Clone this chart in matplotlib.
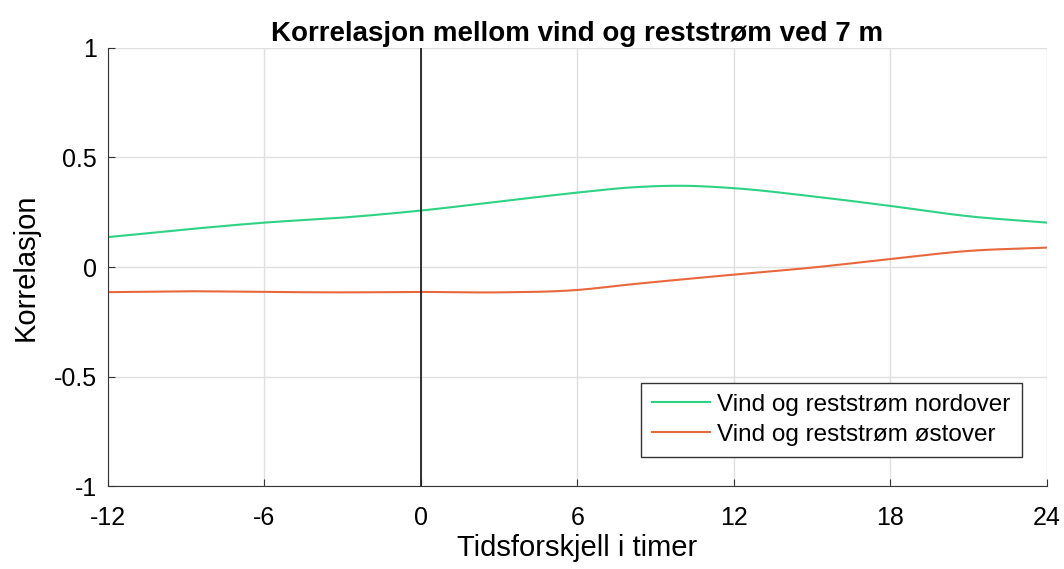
import numpy as np
import matplotlib.pyplot as plt

plt.rcParams['font.family'] = ['Liberation Sans', 'DejaVu Sans']
plt.rcParams['axes.unicode_minus'] = False

# tidsforskjell (timer) og korrelasjon lest av figuren
lag = [-12, -9, -6, -3, 0, 3, 6, 8, 10, 12, 15, 18, 21, 24]
nord = [0.137, 0.172, 0.203, 0.226, 0.258, 0.299, 0.340, 0.363, 0.371, 0.360, 0.323, 0.279, 0.232, 0.203]
ost = [-0.114, -0.110, -0.113, -0.115, -0.113, -0.115, -0.104, -0.079, -0.056, -0.034, -0.002, 0.037, 0.074, 0.089]
xticks = [-12, -6, 0, 6, 12, 18, 24]
yticks = [-1, -0.5, 0, 0.5, 1]
ytick_labels = ['-1', '-0.5', '0', '0.5', '1']

# glatt kurve gjennom avleste punkter (kubisk Hermite)
def smooth(x, y, n=400):
    x = np.asarray(x, float)
    y = np.asarray(y, float)
    d = np.gradient(y, x)
    xs = np.linspace(x[0], x[-1], n)
    ys = np.empty_like(xs)
    for k, xv in enumerate(xs):
        i = min(np.searchsorted(x, xv, side='right') - 1, len(x) - 2)
        h = x[i + 1] - x[i]
        t = (xv - x[i]) / h
        h00 = 2*t**3 - 3*t**2 + 1
        h10 = t**3 - 2*t**2 + t
        h01 = -2*t**3 + 3*t**2
        h11 = t**3 - t**2
        ys[k] = h00*y[i] + h10*h*d[i] + h01*y[i+1] + h11*h*d[i+1]
    return xs, ys

fig = plt.figure(figsize=(10.64, 5.69), dpi=100)
ax = fig.add_axes([0.1015, 0.145, 0.8825, 0.771])

xs, ys = smooth(lag, nord)
ax.plot(xs, ys, color='#2ed283', lw=1.5, label='Vind og reststrøm nordover')
xs, ys = smooth(lag, ost)
ax.plot(xs, ys, color='#e8683c', lw=1.5, label='Vind og reststrøm østover')
ax.axvline(0, color='#222222', lw=1.3)

ax.set_xlim(-12, 24)
ax.set_ylim(-1, 1)
ax.set_xticks(xticks)
ax.set_yticks(yticks)
ax.set_yticklabels(ytick_labels)
ax.grid(True, color='#e0e0e0', lw=1)
ax.set_axisbelow(True)
ax.spines['top'].set_visible(False)
ax.spines['right'].set_visible(False)
ax.spines['left'].set_color('#333333')
ax.spines['bottom'].set_color('#333333')
ax.tick_params(direction='in', labelsize=18, length=5, color='#333333')
ax.tick_params(axis='x', pad=14)
ax.tick_params(axis='y', pad=8)

ax.set_title('Korrelasjon mellom vind og reststrøm ved 7 m', fontsize=20, fontweight='bold', pad=5)
ax.set_xlabel('Tidsforskjell i timer', fontsize=21, labelpad=3)
ax.set_ylabel('Korrelasjon', fontsize=21, labelpad=10)

leg = ax.legend(loc='lower right', bbox_to_anchor=(0.973, 0.068), borderaxespad=0, fontsize=17.5,
                fancybox=False, edgecolor='#333333', framealpha=1, handlelength=2.4,
                handletextpad=0.3, borderpad=0.45, labelspacing=0.32)
leg.get_frame().set_linewidth(1.0)

fig.savefig('out.png', dpi=100)
